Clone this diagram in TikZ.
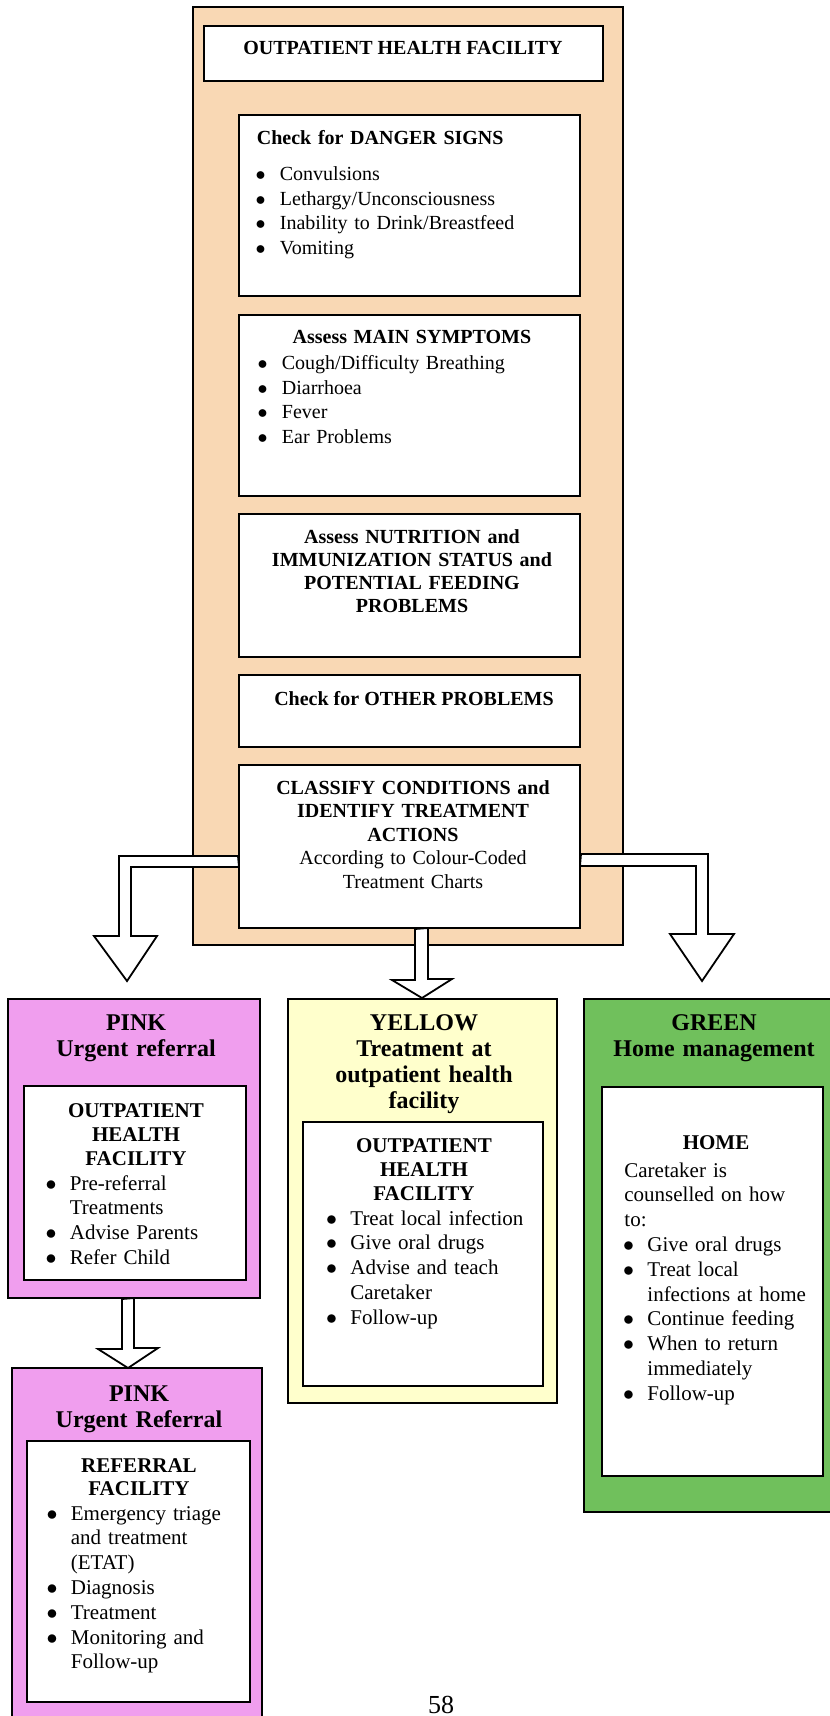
\documentclass[tikz,border=0pt]{standalone}
\usepackage{fontspec}
\setmainfont{Liberation Serif}
\usetikzlibrary{calc}

\definecolor{facilitytan}{RGB}{249,216,180}
\definecolor{urgentpink}{RGB}{240,158,238}
\definecolor{clinicyellow}{RGB}{255,255,204}
\definecolor{homegreen}{RGB}{112,192,92}

\setlength{\parskip}{0pt}
\newlength{\bulsep}\setlength{\bulsep}{11.5pt}
\newcommand{\bul}[1]{\noindent\hangindent=\bulsep\hangafter=1%
  \hbox to\bulsep{\kern-0.7pt$\bullet$\hss}#1\par}

\begin{document}
\begin{tikzpicture}[x=0.5pt, y=-0.5pt,
    box/.style 2 args={draw, line width=1pt, minimum width=#1,
                       minimum height=#2, inner sep=0pt},
    hollow/.style={draw, fill=white, line width=0.9pt, line join=miter},
    toptxt/.style={inner sep=0pt, font=\fontsize{10}{12.25}\selectfont},
    topbf/.style={inner sep=0pt, font=\fontsize{10}{12.25}\selectfont\bfseries},
    captxt/.style={inner sep=0pt, align=center,
                   font=\fontsize{12}{13}\selectfont\bfseries},
    subtxt/.style={inner sep=0pt, align=center,
                   font=\fontsize{10.5}{12}\selectfont\bfseries},
    listtxt/.style={inner sep=0pt, align=left,
                    font=\fontsize{10.5}{12.4}\selectfont},
]
\fill[white] (0,0) rectangle (829,1716);
\useasboundingbox (0,0) rectangle (829,1716);

% --- Outpatient health facility column ---
\node[box={215pt}{469pt}, fill=facilitytan] (facility) at (408,476) {};
\node[box={199.5pt}{27.5pt}, fill=white] (ttlbox) at (403.5,53.5) {};
\node[topbf, anchor=base] (ttltxt) at (403,55) {OUTPATIENT HEALTH FACILITY};

\node[box={170.5pt}{90.5pt}, fill=white] (danger) at (409.5,205.5) {};
\node[toptxt, text width=156pt, align=left, anchor=base west] (dangertxt)
    at (256.5,145)
    {\textbf{Check for DANGER SIGNS}\par\vspace{5.75pt}
     \bul{Convulsions}\bul{Lethargy/Unconsciousness}
     \bul{Inability to Drink/Breastfeed}\bul{Vomiting}};

\node[box={170.5pt}{90.5pt}, fill=white] (symptoms) at (409.5,405.5) {};
\node[toptxt, text width=153pt, align=left, anchor=base west] (symptomstxt)
    at (258.5,344)
    {{\centering\bfseries Assess MAIN SYMPTOMS\par}\vspace{0.75pt}
     \bul{Cough/Difficulty Breathing}\bul{Diarrhoea}
     \bul{Fever}\bul{Ear Problems}};

\node[box={170.5pt}{71.5pt}, fill=white] (nutrition) at (409.5,585.5) {};
\node[topbf, text width=150pt, align=center, anchor=base,
      font=\fontsize{10}{11.35}\selectfont\bfseries] (nutritiontxt) at (412,544)
    {Assess NUTRITION and\\IMMUNIZATION STATUS and\\POTENTIAL FEEDING\\PROBLEMS};

\node[box={170.5pt}{36pt}, fill=white] (other) at (409.5,711) {};
\node[topbf, anchor=base] (othertxt) at (414,705) {Check for OTHER PROBLEMS};

\node[box={170.5pt}{81.5pt}, fill=white] (classify) at (409.5,846.5) {};
\node[toptxt, text width=150pt, align=center, anchor=base,
      font=\fontsize{10}{11.75}\selectfont] (classifytxt) at (413,794)
    {\textbf{CLASSIFY CONDITIONS and}\\\textbf{IDENTIFY TREATMENT}\\
     \textbf{ACTIONS}\\According to Colour-Coded\\Treatment Charts};

% --- Branch arrows ---
\coordinate (tipL) at (127,981);
\coordinate (tipM) at (422,998);
\coordinate (tipR) at (702,981);
\draw[hollow] ($(classify.west)+(0,9.5)$) -- ++(-119,0) -- ++(0,80)
    -- ++(-25,0) -- (tipL) -- ++(30,-45) -- ++(-26,0) -- ++(0,-69)
    -- ++(108,0) -- cycle;
\draw[hollow] ($(classify.east)+(0,7.5)$) -- ++(127,0) -- ++(0,80)
    -- ++(26,0) -- (tipR) -- ++(-32,-47) -- ++(26,0) -- ++(0,-68)
    -- ++(-116,0) -- cycle;
\draw[hollow] ($(classify.south)+(5.5,0)$) -- ++(0,51) -- ++(-23,0)
    -- (tipM) -- ++(30,-19) -- ++(-24,0) -- ++(0,-51) -- cycle;

% --- PINK: urgent referral ---
\node[box={126pt}{149.5pt}, fill=urgentpink] (pinkA) at (134,1148.5) {};
\node[captxt, text width=120pt, anchor=base] (pinkAcap) at (136,1030)
    {PINK\\Urgent referral};
\node[box={111pt}{97pt}, fill=white] (pinkAin) at (135,1183) {};
\node[subtxt, text width=100pt, anchor=base] (pinkAsub) at (136,1117)
    {OUTPATIENT\\HEALTH\\FACILITY};
\node[listtxt, text width=100pt, anchor=base west] (pinkAlist) at (46.5,1190)
    {\bul{Pre-referral\newline Treatments}\bul{Advise Parents}\bul{Refer Child}};

% --- YELLOW: treatment at outpatient facility ---
\node[box={134.5pt}{202pt}, fill=clinicyellow] (yellow) at (422.5,1201) {};
\node[captxt, text width=130pt, anchor=base] (yellowcap) at (424,1030)
    {YELLOW\\Treatment at\\outpatient health\\facility};
\node[box={120pt}{132pt}, fill=white] (yellowin) at (423,1254) {};
\node[subtxt, text width=110pt, anchor=base] (yellowsub) at (424,1152)
    {OUTPATIENT\\HEALTH\\FACILITY};
\node[listtxt, text width=105pt, anchor=base west] (yellowlist) at (327,1225)
    {\bul{Treat local infection}\bul{Give oral drugs}
     \bul{Advise and teach\newline Caretaker}\bul{Follow-up}};

% --- GREEN: home management ---
\node[box={128pt}{256.5pt}, fill=homegreen] (green) at (712,1255.5) {};
\node[captxt, text width=125pt, anchor=base] (greencap) at (714,1030)
    {GREEN\\Home management};
\node[box={110.5pt}{194.5pt}, fill=white] (greenin) at (712.5,1281.5) {};
\node[subtxt, anchor=base] (greensub) at (716,1149) {HOME};
\node[listtxt, text width=100pt, anchor=base west] (greenlist) at (624,1177)
    {Caretaker is\\counselled on how\\to:\par
     \bul{Give oral drugs}\bul{Treat local\newline infections at home}
     \bul{Continue feeding}\bul{When to return\newline immediately}
     \bul{Follow-up}};

% --- PINK: referral facility ---
\node[box={125pt}{176pt}, fill=urgentpink] (pinkB) at (137,1544) {};
\node[captxt, text width=120pt, anchor=base] (pinkBcap) at (139,1401)
    {PINK\\Urgent Referral};
\node[box={111.5pt}{130.5pt}, fill=white] (pinkBin) at (138.5,1571.5) {};
\node[subtxt, text width=100pt, anchor=base,
      font=\fontsize{10.5}{11.5}\selectfont\bfseries] (pinkBsub) at (139,1472)
    {REFERRAL\\FACILITY};
\node[listtxt, text width=100pt, anchor=base west] (pinkBlist) at (47.5,1520)
    {\bul{Emergency triage\newline and treatment\newline (ETAT)}
     \bul{Diagnosis}\bul{Treatment}\bul{Monitoring and\newline Follow-up}};

\coordinate (tipP) at (128,1368);
\draw[hollow] ($(pinkA.south)+(-12,0)$) -- ++(0,50) -- ++(-24,0)
    -- (tipP) -- ++(30,-20) -- ++(-24,0) -- ++(0,-50) -- cycle;

% --- page number ---
\node[inner sep=0pt, font=\fontsize{13}{13}\selectfont, anchor=base] (pagenum)
    at (441,1713) {58};
\end{tikzpicture}
\end{document}
